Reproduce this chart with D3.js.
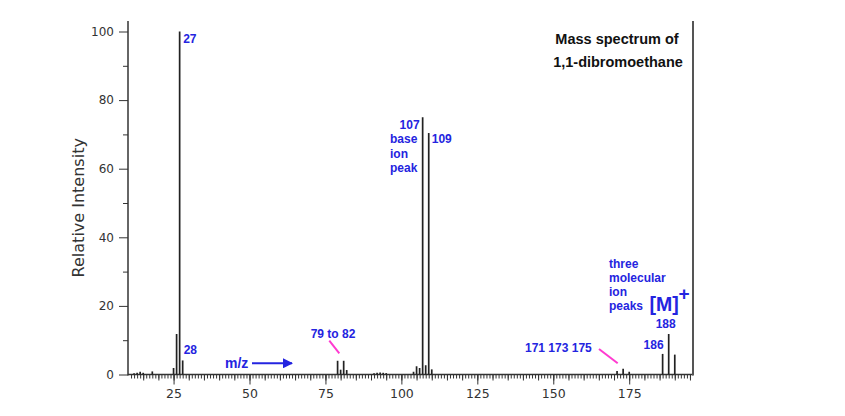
<!DOCTYPE html>
<html>
<head>
<meta charset="utf-8">
<script src="https://cdn.jsdelivr.net/npm/d3@7"></script>
<style>
  html, body { margin: 0; padding: 0; background: #fff; }
  svg { display: block; }
</style>
</head>
<body>
<svg id="chart" width="845" height="416"></svg>
<script>
// ---- data ----
const mzValues = [12, 13, 14, 15, 18, 25, 26, 27, 28,
                  79, 80, 81, 82,
                  91, 92, 93, 94, 95,
                  104, 105, 106, 107, 108, 109, 110,
                  171, 173, 175,
                  186, 188, 190];
const intensities = [0.4, 0.5, 0.8, 0.5, 0.9, 1.9, 11.8, 100, 4.1,
                     4.0, 1.4, 4.0, 1.3,
                     0.4, 0.5, 0.6, 0.5, 0.4,
                     0.8, 2.4, 1.9, 75, 2.7, 70.4, 1.5,
                     1.0, 1.7, 0.8,
                     6.0, 11.8, 5.8];
const xTickLabels = [25, 50, 75, 100, 125, 150, 175];
const yTickLabels = [0, 20, 40, 60, 80, 100];
const yMinorTicks = [10, 30, 50, 70, 90];
const xDomain = [10, 196];

const peaks = mzValues.map((m, i) => ({ mz: m, v: intensities[i] }));

const svg = d3.select("#chart");
const x = d3.scaleLinear().domain(xDomain).range([128, 693]);
const y = d3.scaleLinear().domain([0, 100]).range([374.5, 31.5]);

const axisColor = "#333";
const tickFont = "DejaVu Sans, Verdana, sans-serif";
const annFont = "Liberation Sans, Arial, sans-serif";
const blue = "#2424e0";
const magenta = "#ff3ad0";

// ---- x axis ticks ----
const minor = d3.range(11, 196);
const medium = minor.filter(d => d % 5 === 0);
function styleAxis(g) {
  g.select(".domain").remove();
  g.selectAll(".tick line").attr("stroke", axisColor).attr("stroke-width", 1);
}
svg.append("g").attr("transform", `translate(0,${y(0)})`)
  .call(d3.axisBottom(x).tickValues(minor).tickSize(4).tickFormat(""))
  .call(styleAxis);
svg.append("g").attr("transform", `translate(0,${y(0)})`)
  .call(d3.axisBottom(x).tickValues(medium).tickSize(6).tickFormat(""))
  .call(styleAxis);
const gx = svg.append("g").attr("transform", `translate(0,${y(0)})`)
  .call(d3.axisBottom(x).tickValues(xTickLabels).tickSize(10).tickPadding(5).tickFormat(d3.format("d")))
  .call(styleAxis);
gx.selectAll("text").attr("font-family", tickFont).attr("font-size", 12.5).attr("fill", axisColor);

// ---- y axis ----
svg.append("g").attr("transform", `translate(${x(xDomain[0])},0)`)
  .call(d3.axisLeft(y).tickValues(yMinorTicks).tickSize(5).tickFormat(""))
  .call(styleAxis);
const gy = svg.append("g").attr("transform", `translate(${x(xDomain[0])},0)`)
  .call(d3.axisLeft(y).tickValues(yTickLabels).tickSize(9).tickPadding(5).tickFormat(d3.format("d")))
  .call(styleAxis);
gy.selectAll("text").attr("font-family", tickFont).attr("font-size", 12).attr("fill", axisColor);

// axis lines
svg.append("line").attr("x1", x(xDomain[0])).attr("x2", x(xDomain[1]))
  .attr("y1", y(0)).attr("y2", y(0)).attr("stroke", axisColor).attr("stroke-width", 1.5);
svg.append("line").attr("x1", x(xDomain[0])).attr("x2", x(xDomain[0]))
  .attr("y1", 21).attr("y2", y(0) + 1).attr("stroke", axisColor).attr("stroke-width", 1.5);
svg.append("line").attr("x1", x(xDomain[1])).attr("x2", x(xDomain[1]))
  .attr("y1", 21).attr("y2", y(0) + 1).attr("stroke", "#555").attr("stroke-width", 2);

// y title
svg.append("text")
  .attr("transform", `translate(84,${(y(0) + 21) / 2 + 10}) rotate(-90)`)
  .attr("text-anchor", "middle")
  .attr("font-family", tickFont).attr("font-size", 16).attr("fill", "#333")
  .text("Relative Intensity");

// ---- peaks ----
svg.append("g").selectAll("line").data(peaks).join("line")
  .attr("x1", d => x(d.mz)).attr("x2", d => x(d.mz))
  .attr("y1", y(0)).attr("y2", d => y(d.v))
  .attr("stroke", "#222").attr("stroke-width", 1.7);

// ---- annotations ----
function ann(text, px, py, opts = {}) {
  return svg.append("text")
    .attr("x", px).attr("y", py)
    .attr("font-family", annFont).attr("font-weight", "bold")
    .attr("font-size", opts.size || 12)
    .attr("fill", opts.color || blue)
    .attr("text-anchor", opts.anchor || "start")
    .text(text);
}
ann("27", x(27) + 3.5, y(100) + 11);
ann("28", x(28) + 1, 354);
ann("107", x(107) - 3, 128.5, { anchor: "end" });
["base", "ion", "peak"].forEach((t, i) => ann(t, 390, 143 + i * 14.5));
ann("109", x(109) + 3, 142.5);
ann("79 to 82", 333, 337.7, { anchor: "middle" });
svg.append("line").attr("x1", 329.3).attr("y1", 340.7).attr("x2", 339.3).attr("y2", 353.3)
  .attr("stroke", magenta).attr("stroke-width", 2);
ann("m/z", 225, 367.5, { size: 14 });
svg.append("defs").append("marker")
  .attr("id", "arrow").attr("viewBox", "0 0 10 10").attr("refX", 9).attr("refY", 5)
  .attr("markerWidth", 5).attr("markerHeight", 5).attr("orient", "auto")
  .append("path").attr("d", "M0,0 L10,5 L0,10 z").attr("fill", blue);
svg.append("line").attr("x1", 252).attr("y1", 363.3).attr("x2", 292).attr("y2", 363.3)
  .attr("stroke", blue).attr("stroke-width", 2).attr("marker-end", "url(#arrow)");
ann("171 173 175", 525, 351.7);
svg.append("line").attr("x1", 599).attr("y1", 349).attr("x2", 617.7).attr("y2", 363.3)
  .attr("stroke", magenta).attr("stroke-width", 2);
ann("186", x(186) + 1, 349, { anchor: "end" });
ann("188", x(188) - 3, 328.3, { anchor: "middle" });
["three", "molecular", "ion", "peaks"].forEach((t, i) => ann(t, 609, 268.3 + i * 14));
ann("[M]", 649.5, 310.5, { size: 19.5 });
ann("+", 678.5, 300, { size: 19 });

// title
ann("Mass spectrum of", 617, 44, { size: 14.5, color: "#111", anchor: "middle" });
ann("1,1-dibromoethane", 618, 67, { size: 14.5, color: "#111", anchor: "middle" });
</script>
</body>
</html>
